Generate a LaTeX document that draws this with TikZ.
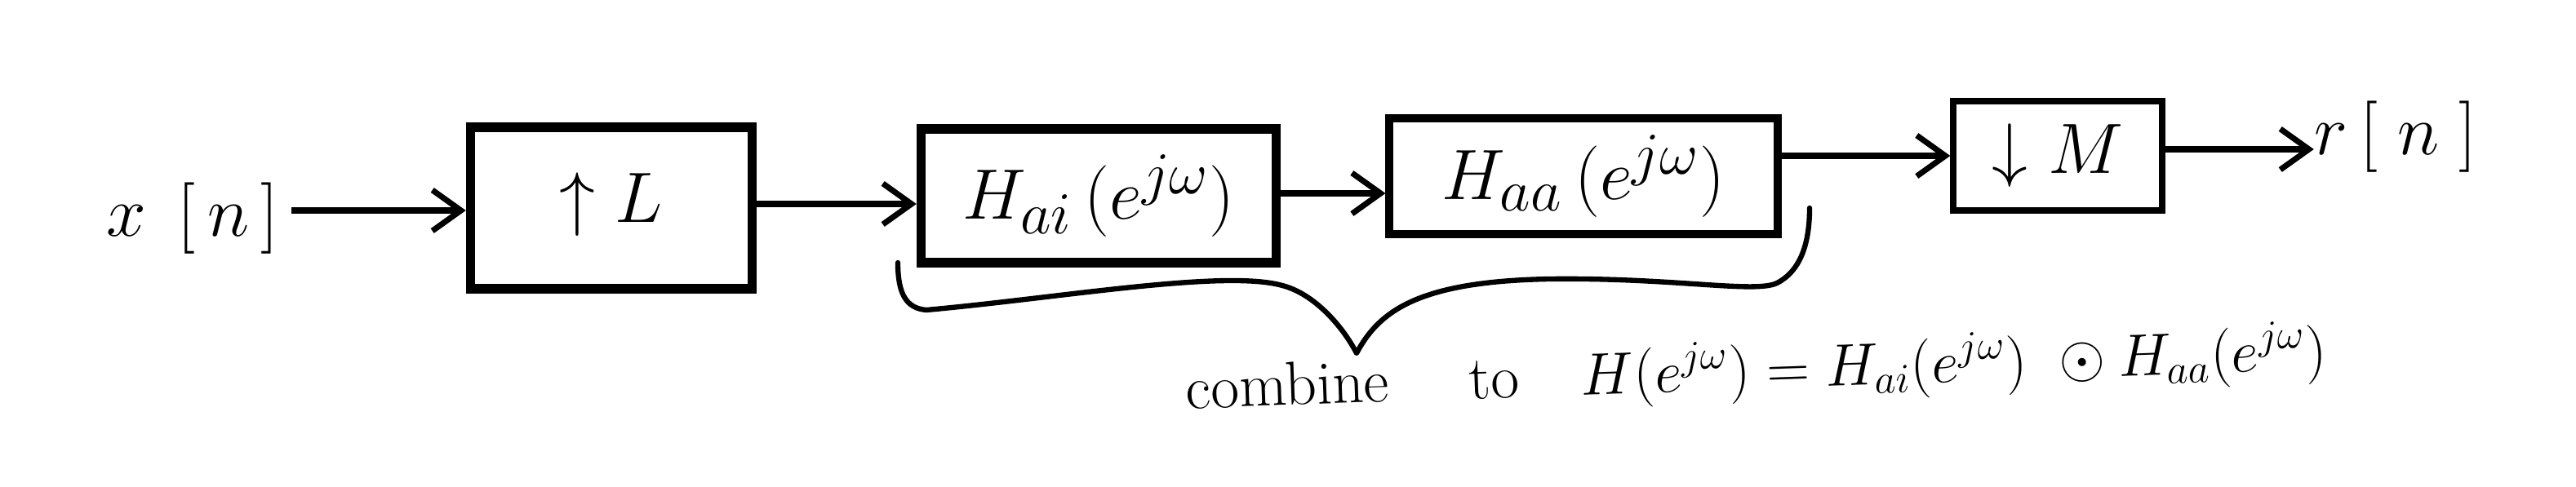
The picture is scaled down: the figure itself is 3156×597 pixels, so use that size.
\documentclass[tikz,border=0pt]{standalone}
\usetikzlibrary{arrows.meta}
\begin{document}
\begin{tikzpicture}[x=0.01cm,y=-0.01cm,
 blk/.style={draw, line width=3.2pt, inner sep=0pt, font=\fontsize{22}{26}\selectfont},
 big/.style={font=\fontsize{29}{33}\selectfont},
 arr/.style={line width=2pt, -{Straight Barb[length=0.35cm,width=0.5cm,line width=2pt]}},
 lbl/.style={inner sep=0pt, font=\fontsize{36}{40}\selectfont},
 brace/.style={line width=1.8pt, line cap=round, line join=round},
 note/.style={inner sep=0pt, font=\fontsize{21.5}{25}\selectfont, rotate=2},
]
\useasboundingbox (0,0) rectangle (3156,597);
\node[lbl] (x) at (236,268) {$x\;\,[\,n\,]$};
\node[blk, minimum width=3.45cm, minimum height=1.98cm, font=\fontsize{24}{28}\selectfont] (L) at (749,255) {\raisebox{0.25cm}{$\uparrow L$}\hspace{0.8cm}};
\node[blk, big, minimum width=4.35cm, minimum height=1.64cm] (hai) at (1346,240) {$H_{ai}\,(e^{j\omega})$};
\node[blk, big, line width=2.8pt, minimum width=4.75cm, minimum height=1.42cm] (haa) at (1940,216) {$H_{aa}\,(e^{j\omega})$\hspace{0.5cm}};
\node[blk, line width=2.3pt, minimum width=2.55cm, minimum height=1.34cm, font=\fontsize{24}{28}\selectfont] (M) at (2521,191) {$\downarrow M$\hspace{0.3cm}};
\node[lbl] (r) at (2935,168) {$r\,[\;n\;]$};

\draw[arr] (x.east) ++(15,-10) coordinate (xs) -- (xs -| L.west);
\draw[arr] (L.east) ++(0,-5) coordinate (ls) -- (ls -| hai.west);
\draw[arr] (hai.east) ++(0,-3) coordinate (hs) -- (hs -| haa.west);
\draw[arr] (haa.east |- M.west) -- (M.west);
\draw[arr] (M.east) ++(0,-8) coordinate (ms) -- (ms -| r.west);

\coordinate (b1) at (1100,322);
\coordinate (b2) at (1135,380);
\coordinate (bm1) at (1571,350);
\coordinate (bt) at (1662,433);
\coordinate (bm2) at (1898,342);
\coordinate (b3) at (2177,347);
\coordinate (b4) at (2217,255);
\draw[brace] (b1) .. controls (1100,360) and (1110,378) .. (b2)
  .. controls (1300,365) and (1500,330) .. (bm1)
  .. controls (1610,360) and (1645,400) .. (bt)
  .. controls (1690,380) and (1740,345) .. (bm2)
  .. controls (2050,340) and (2150,360) .. (b3)
  .. controls (2210,330) and (2217,290) .. (b4);

\node[note] (c) at (2152,456) {combine\quad\ to\quad $H(e^{j\omega}) = H_{ai}(e^{j\omega})\ \odot H_{aa}(e^{j\omega})$};
\end{tikzpicture}
\end{document}
